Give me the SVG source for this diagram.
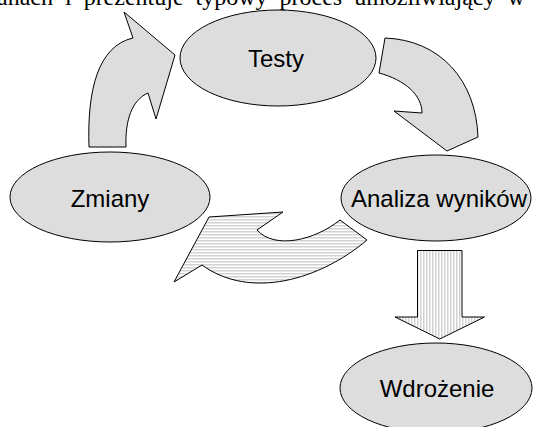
<svg xmlns="http://www.w3.org/2000/svg" width="533" height="427" viewBox="0 0 533 427">
<defs>
<pattern id="hstripe" patternUnits="userSpaceOnUse" width="6" height="3">
<rect width="6" height="3" fill="#ffffff"/>
<rect y="0" width="6" height="1.5" fill="#d2d2d2"/>
</pattern>
<pattern id="vstripe" patternUnits="userSpaceOnUse" width="3" height="6">
<rect width="3" height="6" fill="#ffffff"/>
<rect x="0" width="1.5" height="6" fill="#d2d2d2"/>
</pattern>
</defs>
<style>
.node ellipse{fill:#dddddd;stroke:#000;stroke-width:1}
.node text{font-family:"Liberation Sans",Arial,sans-serif;font-size:24px;fill:#000;text-anchor:middle}
.solid{fill:#dddddd;stroke:#000;stroke-width:1;stroke-linejoin:miter}
.hs{fill:url(#hstripe);stroke:#000;stroke-width:1}
.vs{fill:url(#vstripe);stroke:#000;stroke-width:1}
.caption{font-family:"Liberation Serif","Times New Roman",serif;font-size:24px;fill:#000;word-spacing:6px}
</style>
<text class="caption" x="-3" y="5">anach i prezentuje typowy proces umożliwiający w</text>
<g id="connectors">
<path id="a-zmiany-testy" class="solid" d="M89,147 C87,90 98,46 133,38 L124,12 L175,55 L156,119 L148,93 C132,100 125,120 126,147 Z"/>
<path id="a-testy-analiza" class="solid" d="M385,38 C440,40 476,80 478,137 L447,151 L394,111 L422,113 C422,95 405,80 379,73 Z"/>
<path id="a-analiza-zmiany" class="hs" d="M367,240 C320,280 250,300 202,265 L174,282 L209,217 L283,212 L257,230 C275,250 315,240 340,220 Z"/>
<path id="a-analiza-wdrozenie" class="vs" d="M417.5,250.5 L462,250.5 L462,317 L484.5,317 L439.75,339 L395,317 L417.5,317 Z"/>
</g>
<g id="testy" class="node">
<ellipse cx="278" cy="58" rx="98" ry="48"/>
<text x="276" y="67">Testy</text>
</g>
<g id="zmiany" class="node">
<ellipse cx="110" cy="197" rx="100" ry="45"/>
<text x="110" y="207">Zmiany</text>
</g>
<g id="analiza" class="node">
<ellipse cx="436" cy="198" rx="95" ry="43"/>
<text x="439" y="207">Analiza wyników</text>
</g>
<g id="wdrozenie" class="node">
<ellipse cx="436" cy="388" rx="96" ry="45"/>
<text x="437" y="397">Wdrożenie</text>
</g>
</svg>
